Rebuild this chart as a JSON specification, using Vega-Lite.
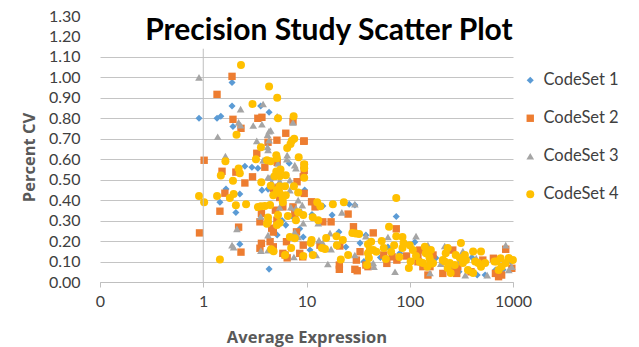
{
"$schema": "https://vega.github.io/schema/vega-lite/v6.json",
"width": 413, "height": 266,
"autosize": {"type": "none"},
"padding": {"left": 100, "top": 16, "right": 126, "bottom": 65},
"background": "white",
"config": {"view": {"stroke": null}},
"datasets": {
"pts": [
{"x":1.9,"y":0.975,"s":"CodeSet 1"},{"x":1.9,"y":0.86,"s":"CodeSet 1"},{"x":3.6,"y":0.86,"s":"CodeSet 1"},{"x":4.34,"y":0.83,"s":"CodeSet 1"},{"x":0.91,"y":0.8,"s":"CodeSet 1"},{"x":1.36,"y":0.8,"s":"CodeSet 1"},{"x":1.48,"y":0.81,"s":"CodeSet 1"},{"x":1.94,"y":0.76,"s":"CodeSet 1"},{"x":2.53,"y":0.566,"s":"CodeSet 1"},{"x":2.96,"y":0.561,"s":"CodeSet 1"},{"x":3.38,"y":0.556,"s":"CodeSet 1"},{"x":1.66,"y":0.454,"s":"CodeSet 1"},{"x":2.26,"y":0.43,"s":"CodeSet 1"},{"x":1.45,"y":0.39,"s":"CodeSet 1"},{"x":2.07,"y":0.34,"s":"CodeSet 1"},{"x":2.26,"y":0.185,"s":"CodeSet 1"},{"x":4.34,"y":0.063,"s":"CodeSet 1"},{"x":3.7,"y":0.449,"s":"CodeSet 1"},{"x":4.24,"y":0.454,"s":"CodeSet 1"},{"x":6.3,"y":0.278,"s":"CodeSet 1"},{"x":5.8,"y":0.3,"s":"CodeSet 1"},{"x":7.3,"y":0.32,"s":"CodeSet 1"},{"x":8.6,"y":0.26,"s":"CodeSet 1"},{"x":5.2,"y":0.23,"s":"CodeSet 1"},{"x":9.6,"y":0.45,"s":"CodeSet 1"},{"x":6.8,"y":0.58,"s":"CodeSet 1"},{"x":9.3,"y":0.22,"s":"CodeSet 1"},{"x":10.8,"y":0.156,"s":"CodeSet 1"},{"x":11.3,"y":0.33,"s":"CodeSet 1"},{"x":14.4,"y":0.371,"s":"CodeSet 1"},{"x":17.7,"y":0.327,"s":"CodeSet 1"},{"x":20.6,"y":0.244,"s":"CodeSet 1"},{"x":24.1,"y":0.171,"s":"CodeSet 1"},{"x":25.9,"y":0.38,"s":"CodeSet 1"},{"x":29.4,"y":0.376,"s":"CodeSet 1"},{"x":33,"y":0.19,"s":"CodeSet 1"},{"x":37.6,"y":0.229,"s":"CodeSet 1"},{"x":36,"y":0.1,"s":"CodeSet 1"},{"x":52,"y":0.12,"s":"CodeSet 1"},{"x":61.5,"y":0.171,"s":"CodeSet 1"},{"x":74,"y":0.32,"s":"CodeSet 1"},{"x":80,"y":0.14,"s":"CodeSet 1"},{"x":112,"y":0.195,"s":"CodeSet 1"},{"x":130,"y":0.1,"s":"CodeSet 1"},{"x":179,"y":0.117,"s":"CodeSet 1"},{"x":250,"y":0.08,"s":"CodeSet 1"},{"x":300,"y":0.05,"s":"CodeSet 1"},{"x":400,"y":0.12,"s":"CodeSet 1"},{"x":450,"y":0.034,"s":"CodeSet 1"},{"x":537,"y":0.034,"s":"CodeSet 1"},{"x":676,"y":0.059,"s":"CodeSet 1"},{"x":800,"y":0.06,"s":"CodeSet 1"},{"x":950,"y":0.1,"s":"CodeSet 1"},
{"x":0.92,"y":0.24,"s":"CodeSet 2"},{"x":1.02,"y":0.595,"s":"CodeSet 2"},{"x":1.9,"y":1.005,"s":"CodeSet 2"},{"x":1.36,"y":0.917,"s":"CodeSet 2"},{"x":1.94,"y":0.795,"s":"CodeSet 2"},{"x":3.38,"y":0.8,"s":"CodeSet 2"},{"x":3.7,"y":0.805,"s":"CodeSet 2"},{"x":2.32,"y":0.751,"s":"CodeSet 2"},{"x":7.4,"y":0.785,"s":"CodeSet 2"},{"x":6.3,"y":0.727,"s":"CodeSet 2"},{"x":9.4,"y":0.688,"s":"CodeSet 2"},{"x":4.24,"y":0.683,"s":"CodeSet 2"},{"x":5.17,"y":0.693,"s":"CodeSet 2"},{"x":9.5,"y":0.689,"s":"CodeSet 2"},{"x":3.3,"y":0.629,"s":"CodeSet 2"},{"x":3.95,"y":0.561,"s":"CodeSet 2"},{"x":9.5,"y":0.571,"s":"CodeSet 2"},{"x":9.5,"y":0.545,"s":"CodeSet 2"},{"x":5.2,"y":0.585,"s":"CodeSet 2"},{"x":1.52,"y":0.541,"s":"CodeSet 2"},{"x":2.07,"y":0.537,"s":"CodeSet 2"},{"x":3.0,"y":0.514,"s":"CodeSet 2"},{"x":2.53,"y":0.484,"s":"CodeSet 2"},{"x":8.1,"y":0.49,"s":"CodeSet 2"},{"x":9.3,"y":0.514,"s":"CodeSet 2"},{"x":5.4,"y":0.463,"s":"CodeSet 2"},{"x":4.77,"y":0.457,"s":"CodeSet 2"},{"x":1.62,"y":0.434,"s":"CodeSet 2"},{"x":5.5,"y":0.413,"s":"CodeSet 2"},{"x":9.5,"y":0.433,"s":"CodeSet 2"},{"x":1.45,"y":0.346,"s":"CodeSet 2"},{"x":3.66,"y":0.335,"s":"CodeSet 2"},{"x":3.54,"y":0.294,"s":"CodeSet 2"},{"x":5.0,"y":0.351,"s":"CodeSet 2"},{"x":5.17,"y":0.302,"s":"CodeSet 2"},{"x":5.9,"y":0.367,"s":"CodeSet 2"},{"x":7.4,"y":0.367,"s":"CodeSet 2"},{"x":7.7,"y":0.335,"s":"CodeSet 2"},{"x":11.2,"y":0.392,"s":"CodeSet 2"},{"x":12.1,"y":0.367,"s":"CodeSet 2"},{"x":14.4,"y":0.294,"s":"CodeSet 2"},{"x":17.3,"y":0.294,"s":"CodeSet 2"},{"x":25.3,"y":0.332,"s":"CodeSet 2"},{"x":28.5,"y":0.27,"s":"CodeSet 2"},{"x":2.2,"y":0.268,"s":"CodeSet 2"},{"x":4.6,"y":0.263,"s":"CodeSet 2"},{"x":4.77,"y":0.244,"s":"CodeSet 2"},{"x":6.4,"y":0.197,"s":"CodeSet 2"},{"x":8.0,"y":0.245,"s":"CodeSet 2"},{"x":3.66,"y":0.189,"s":"CodeSet 2"},{"x":4.44,"y":0.197,"s":"CodeSet 2"},{"x":4.77,"y":0.172,"s":"CodeSet 2"},{"x":3.54,"y":0.165,"s":"CodeSet 2"},{"x":2.32,"y":0.146,"s":"CodeSet 2"},{"x":6.2,"y":0.132,"s":"CodeSet 2"},{"x":6.5,"y":0.118,"s":"CodeSet 2"},{"x":5.9,"y":0.14,"s":"CodeSet 2"},{"x":9.2,"y":0.123,"s":"CodeSet 2"},{"x":9.3,"y":0.18,"s":"CodeSet 2"},{"x":8.6,"y":0.14,"s":"CodeSet 2"},{"x":13.5,"y":0.18,"s":"CodeSet 2"},{"x":21,"y":0.176,"s":"CodeSet 2"},{"x":20.8,"y":0.083,"s":"CodeSet 2"},{"x":20.8,"y":0.062,"s":"CodeSet 2"},{"x":33,"y":0.148,"s":"CodeSet 2"},{"x":30.4,"y":0.107,"s":"CodeSet 2"},{"x":29.4,"y":0.062,"s":"CodeSet 2"},{"x":31,"y":0.055,"s":"CodeSet 2"},{"x":37.6,"y":0.083,"s":"CodeSet 2"},{"x":39.4,"y":0.075,"s":"CodeSet 2"},{"x":44.3,"y":0.24,"s":"CodeSet 2"},{"x":56,"y":0.132,"s":"CodeSet 2"},{"x":60,"y":0.091,"s":"CodeSet 2"},{"x":67.5,"y":0.123,"s":"CodeSet 2"},{"x":75,"y":0.107,"s":"CodeSet 2"},{"x":74,"y":0.26,"s":"CodeSet 2"},{"x":93,"y":0.127,"s":"CodeSet 2"},{"x":120,"y":0.132,"s":"CodeSet 2"},{"x":134,"y":0.075,"s":"CodeSet 2"},{"x":125,"y":0.156,"s":"CodeSet 2"},{"x":120,"y":0.099,"s":"CodeSet 2"},{"x":150,"y":0.034,"s":"CodeSet 2"},{"x":157,"y":0.075,"s":"CodeSet 2"},{"x":168,"y":0.132,"s":"CodeSet 2"},{"x":209,"y":0.042,"s":"CodeSet 2"},{"x":261,"y":0.156,"s":"CodeSet 2"},{"x":273,"y":0.05,"s":"CodeSet 2"},{"x":285,"y":0.042,"s":"CodeSet 2"},{"x":292,"y":0.075,"s":"CodeSet 2"},{"x":392,"y":0.05,"s":"CodeSet 2"},{"x":510,"y":0.107,"s":"CodeSet 2"},{"x":646,"y":0.116,"s":"CodeSet 2"},{"x":676,"y":0.042,"s":"CodeSet 2"},{"x":725,"y":0.026,"s":"CodeSet 2"},{"x":776,"y":0.034,"s":"CodeSet 2"},{"x":850,"y":0.16,"s":"CodeSet 2"},{"x":974,"y":0.067,"s":"CodeSet 2"},
{"x":0.91,"y":1.0,"s":"CodeSet 3"},{"x":2.3,"y":0.845,"s":"CodeSet 3"},{"x":3.8,"y":0.87,"s":"CodeSet 3"},{"x":5.2,"y":0.81,"s":"CodeSet 3"},{"x":2.2,"y":0.78,"s":"CodeSet 3"},{"x":2.3,"y":0.766,"s":"CodeSet 3"},{"x":3.05,"y":0.765,"s":"CodeSet 3"},{"x":3.7,"y":0.771,"s":"CodeSet 3"},{"x":7.4,"y":0.78,"s":"CodeSet 3"},{"x":1.38,"y":0.71,"s":"CodeSet 3"},{"x":4.5,"y":0.741,"s":"CodeSet 3"},{"x":4.34,"y":0.737,"s":"CodeSet 3"},{"x":4.2,"y":0.72,"s":"CodeSet 3"},{"x":3.3,"y":0.69,"s":"CodeSet 3"},{"x":4.34,"y":0.693,"s":"CodeSet 3"},{"x":4.2,"y":0.66,"s":"CodeSet 3"},{"x":4.24,"y":0.645,"s":"CodeSet 3"},{"x":6.5,"y":0.62,"s":"CodeSet 3"},{"x":6.45,"y":0.6,"s":"CodeSet 3"},{"x":1.64,"y":0.615,"s":"CodeSet 3"},{"x":3.8,"y":0.595,"s":"CodeSet 3"},{"x":7.7,"y":0.571,"s":"CodeSet 3"},{"x":7.9,"y":0.556,"s":"CodeSet 3"},{"x":5.3,"y":0.58,"s":"CodeSet 3"},{"x":4.24,"y":0.512,"s":"CodeSet 3"},{"x":4.44,"y":0.51,"s":"CodeSet 3"},{"x":4.77,"y":0.515,"s":"CodeSet 3"},{"x":4.6,"y":0.488,"s":"CodeSet 3"},{"x":5.5,"y":0.493,"s":"CodeSet 3"},{"x":6.9,"y":0.498,"s":"CodeSet 3"},{"x":6.9,"y":0.449,"s":"CodeSet 3"},{"x":8.3,"y":0.4,"s":"CodeSet 3"},{"x":9.1,"y":0.376,"s":"CodeSet 3"},{"x":8.9,"y":0.344,"s":"CodeSet 3"},{"x":7.9,"y":0.361,"s":"CodeSet 3"},{"x":5.5,"y":0.366,"s":"CodeSet 3"},{"x":7.06,"y":0.366,"s":"CodeSet 3"},{"x":3.6,"y":0.32,"s":"CodeSet 3"},{"x":9.3,"y":0.288,"s":"CodeSet 3"},{"x":13,"y":0.288,"s":"CodeSet 3"},{"x":16.9,"y":0.239,"s":"CodeSet 3"},{"x":7.7,"y":0.244,"s":"CodeSet 3"},{"x":8.3,"y":0.22,"s":"CodeSet 3"},{"x":4.24,"y":0.229,"s":"CodeSet 3"},{"x":2.12,"y":0.26,"s":"CodeSet 3"},{"x":4.24,"y":0.156,"s":"CodeSet 3"},{"x":1.9,"y":0.18,"s":"CodeSet 3"},{"x":1.97,"y":0.17,"s":"CodeSet 3"},{"x":3.62,"y":0.153,"s":"CodeSet 3"},{"x":7.55,"y":0.122,"s":"CodeSet 3"},{"x":12.4,"y":0.132,"s":"CodeSet 3"},{"x":13.2,"y":0.205,"s":"CodeSet 3"},{"x":16.1,"y":0.088,"s":"CodeSet 3"},{"x":17.3,"y":0.161,"s":"CodeSet 3"},{"x":14.4,"y":0.19,"s":"CodeSet 3"},{"x":22,"y":0.34,"s":"CodeSet 3"},{"x":29.4,"y":0.38,"s":"CodeSet 3"},{"x":29.4,"y":0.132,"s":"CodeSet 3"},{"x":37.6,"y":0.224,"s":"CodeSet 3"},{"x":44.3,"y":0.093,"s":"CodeSet 3"},{"x":45,"y":0.075,"s":"CodeSet 3"},{"x":61.5,"y":0.22,"s":"CodeSet 3"},{"x":72,"y":0.05,"s":"CodeSet 3"},{"x":89,"y":0.19,"s":"CodeSet 3"},{"x":115,"y":0.224,"s":"CodeSet 3"},{"x":150,"y":0.18,"s":"CodeSet 3"},{"x":157,"y":0.044,"s":"CodeSet 3"},{"x":200,"y":0.09,"s":"CodeSet 3"},{"x":218,"y":0.176,"s":"CodeSet 3"},{"x":300,"y":0.1,"s":"CodeSet 3"},{"x":327,"y":0.151,"s":"CodeSet 3"},{"x":345,"y":0.034,"s":"CodeSet 3"},{"x":440,"y":0.117,"s":"CodeSet 3"},{"x":562,"y":0.034,"s":"CodeSet 3"},{"x":850,"y":0.18,"s":"CodeSet 3"},{"x":910,"y":0.059,"s":"CodeSet 3"},{"x":974,"y":0.075,"s":"CodeSet 3"},
{"x":2.32,"y":1.06,"s":"CodeSet 4"},{"x":4.34,"y":0.956,"s":"CodeSet 4"},{"x":5.2,"y":0.9,"s":"CodeSet 4"},{"x":3.0,"y":0.87,"s":"CodeSet 4"},{"x":7.5,"y":0.81,"s":"CodeSet 4"},{"x":5.3,"y":0.8,"s":"CodeSet 4"},{"x":2.1,"y":0.72,"s":"CodeSet 4"},{"x":7.6,"y":0.7,"s":"CodeSet 4"},{"x":7.2,"y":0.69,"s":"CodeSet 4"},{"x":7.0,"y":0.675,"s":"CodeSet 4"},{"x":6.5,"y":0.655,"s":"CodeSet 4"},{"x":3.62,"y":0.659,"s":"CodeSet 4"},{"x":5.1,"y":0.62,"s":"CodeSet 4"},{"x":8.4,"y":0.61,"s":"CodeSet 4"},{"x":1.64,"y":0.59,"s":"CodeSet 4"},{"x":3.24,"y":0.6,"s":"CodeSet 4"},{"x":4.14,"y":0.595,"s":"CodeSet 4"},{"x":4.5,"y":0.59,"s":"CodeSet 4"},{"x":5.17,"y":0.605,"s":"CodeSet 4"},{"x":9.5,"y":0.575,"s":"CodeSet 4"},{"x":9.5,"y":0.556,"s":"CodeSet 4"},{"x":2.2,"y":0.555,"s":"CodeSet 4"},{"x":5.1,"y":0.54,"s":"CodeSet 4"},{"x":5.6,"y":0.55,"s":"CodeSet 4"},{"x":2.26,"y":0.532,"s":"CodeSet 4"},{"x":1.48,"y":0.52,"s":"CodeSet 4"},{"x":4.9,"y":0.517,"s":"CodeSet 4"},{"x":5.5,"y":0.517,"s":"CodeSet 4"},{"x":6.3,"y":0.522,"s":"CodeSet 4"},{"x":9.5,"y":0.51,"s":"CodeSet 4"},{"x":1.94,"y":0.495,"s":"CodeSet 4"},{"x":3.65,"y":0.487,"s":"CodeSet 4"},{"x":4.5,"y":0.47,"s":"CodeSet 4"},{"x":5.5,"y":0.468,"s":"CodeSet 4"},{"x":6.2,"y":0.468,"s":"CodeSet 4"},{"x":7.55,"y":0.468,"s":"CodeSet 4"},{"x":5.17,"y":0.45,"s":"CodeSet 4"},{"x":1.97,"y":0.43,"s":"CodeSet 4"},{"x":4.77,"y":0.424,"s":"CodeSet 4"},{"x":5.5,"y":0.434,"s":"CodeSet 4"},{"x":6.3,"y":0.424,"s":"CodeSet 4"},{"x":5.9,"y":0.41,"s":"CodeSet 4"},{"x":8.3,"y":0.437,"s":"CodeSet 4"},{"x":0.91,"y":0.42,"s":"CodeSet 4"},{"x":1.36,"y":0.42,"s":"CodeSet 4"},{"x":1.81,"y":0.41,"s":"CodeSet 4"},{"x":1.02,"y":0.39,"s":"CodeSet 4"},{"x":5.9,"y":0.39,"s":"CodeSet 4"},{"x":2.07,"y":0.375,"s":"CodeSet 4"},{"x":2.6,"y":0.38,"s":"CodeSet 4"},{"x":3.38,"y":0.366,"s":"CodeSet 4"},{"x":3.62,"y":0.37,"s":"CodeSet 4"},{"x":3.95,"y":0.371,"s":"CodeSet 4"},{"x":4.44,"y":0.376,"s":"CodeSet 4"},{"x":4.24,"y":0.315,"s":"CodeSet 4"},{"x":4.24,"y":0.295,"s":"CodeSet 4"},{"x":4.14,"y":0.285,"s":"CodeSet 4"},{"x":5.3,"y":0.327,"s":"CodeSet 4"},{"x":5.17,"y":0.278,"s":"CodeSet 4"},{"x":5.5,"y":0.29,"s":"CodeSet 4"},{"x":6.6,"y":0.322,"s":"CodeSet 4"},{"x":7.9,"y":0.302,"s":"CodeSet 4"},{"x":8.3,"y":0.341,"s":"CodeSet 4"},{"x":9.3,"y":0.327,"s":"CodeSet 4"},{"x":11.5,"y":0.317,"s":"CodeSet 4"},{"x":13,"y":0.302,"s":"CodeSet 4"},{"x":12.7,"y":0.39,"s":"CodeSet 4"},{"x":13.6,"y":0.37,"s":"CodeSet 4"},{"x":18,"y":0.38,"s":"CodeSet 4"},{"x":23,"y":0.39,"s":"CodeSet 4"},{"x":6.9,"y":0.22,"s":"CodeSet 4"},{"x":7.7,"y":0.214,"s":"CodeSet 4"},{"x":11.2,"y":0.205,"s":"CodeSet 4"},{"x":15.5,"y":0.215,"s":"CodeSet 4"},{"x":19.5,"y":0.224,"s":"CodeSet 4"},{"x":22.5,"y":0.205,"s":"CodeSet 4"},{"x":27.8,"y":0.24,"s":"CodeSet 4"},{"x":30,"y":0.237,"s":"CodeSet 4"},{"x":32.3,"y":0.234,"s":"CodeSet 4"},{"x":1.45,"y":0.11,"s":"CodeSet 4"},{"x":4.55,"y":0.16,"s":"CodeSet 4"},{"x":4.8,"y":0.15,"s":"CodeSet 4"},{"x":6.2,"y":0.132,"s":"CodeSet 4"},{"x":7.1,"y":0.166,"s":"CodeSet 4"},{"x":9.3,"y":0.127,"s":"CodeSet 4"},{"x":11.0,"y":0.19,"s":"CodeSet 4"},{"x":11.5,"y":0.132,"s":"CodeSet 4"},{"x":14.1,"y":0.166,"s":"CodeSet 4"},{"x":15.1,"y":0.161,"s":"CodeSet 4"},{"x":19.7,"y":0.18,"s":"CodeSet 4"},{"x":21.5,"y":0.11,"s":"CodeSet 4"},{"x":25.3,"y":0.132,"s":"CodeSet 4"},{"x":39.4,"y":0.185,"s":"CodeSet 4"},{"x":42.3,"y":0.197,"s":"CodeSet 4"},{"x":41,"y":0.156,"s":"CodeSet 4"},{"x":44.3,"y":0.156,"s":"CodeSet 4"},{"x":39.4,"y":0.141,"s":"CodeSet 4"},{"x":40.2,"y":0.117,"s":"CodeSet 4"},{"x":38.5,"y":0.083,"s":"CodeSet 4"},{"x":47.5,"y":0.148,"s":"CodeSet 4"},{"x":53.5,"y":0.2,"s":"CodeSet 4"},{"x":56,"y":0.166,"s":"CodeSet 4"},{"x":58.7,"y":0.112,"s":"CodeSet 4"},{"x":63,"y":0.27,"s":"CodeSet 4"},{"x":66,"y":0.148,"s":"CodeSet 4"},{"x":70.6,"y":0.18,"s":"CodeSet 4"},{"x":74,"y":0.224,"s":"CodeSet 4"},{"x":74,"y":0.41,"s":"CodeSet 4"},{"x":79.3,"y":0.122,"s":"CodeSet 4"},{"x":85,"y":0.22,"s":"CodeSet 4"},{"x":85,"y":0.166,"s":"CodeSet 4"},{"x":87,"y":0.19,"s":"CodeSet 4"},{"x":98,"y":0.068,"s":"CodeSet 4"},{"x":100,"y":0.18,"s":"CodeSet 4"},{"x":102,"y":0.1,"s":"CodeSet 4"},{"x":107,"y":0.156,"s":"CodeSet 4"},{"x":115,"y":0.127,"s":"CodeSet 4"},{"x":125,"y":0.098,"s":"CodeSet 4"},{"x":134,"y":0.093,"s":"CodeSet 4"},{"x":140,"y":0.172,"s":"CodeSet 4"},{"x":143,"y":0.141,"s":"CodeSet 4"},{"x":148,"y":0.075,"s":"CodeSet 4"},{"x":155,"y":0.122,"s":"CodeSet 4"},{"x":157,"y":0.107,"s":"CodeSet 4"},{"x":160,"y":0.156,"s":"CodeSet 4"},{"x":165,"y":0.09,"s":"CodeSet 4"},{"x":168,"y":0.093,"s":"CodeSet 4"},{"x":209,"y":0.107,"s":"CodeSet 4"},{"x":218,"y":0.1,"s":"CodeSet 4"},{"x":223,"y":0.141,"s":"CodeSet 4"},{"x":233,"y":0.166,"s":"CodeSet 4"},{"x":233,"y":0.068,"s":"CodeSet 4"},{"x":244,"y":0.093,"s":"CodeSet 4"},{"x":249,"y":0.044,"s":"CodeSet 4"},{"x":273,"y":0.083,"s":"CodeSet 4"},{"x":279,"y":0.132,"s":"CodeSet 4"},{"x":306,"y":0.117,"s":"CodeSet 4"},{"x":313,"y":0.19,"s":"CodeSet 4"},{"x":327,"y":0.093,"s":"CodeSet 4"},{"x":342,"y":0.132,"s":"CodeSet 4"},{"x":350,"y":0.107,"s":"CodeSet 4"},{"x":366,"y":0.059,"s":"CodeSet 4"},{"x":411,"y":0.149,"s":"CodeSet 4"},{"x":411,"y":0.044,"s":"CodeSet 4"},{"x":430,"y":0.1,"s":"CodeSet 4"},{"x":460,"y":0.093,"s":"CodeSet 4"},{"x":490,"y":0.149,"s":"CodeSet 4"},{"x":490,"y":0.075,"s":"CodeSet 4"},{"x":537,"y":0.093,"s":"CodeSet 4"},{"x":661,"y":0.1,"s":"CodeSet 4"},{"x":692,"y":0.1,"s":"CodeSet 4"},{"x":725,"y":0.059,"s":"CodeSet 4"},{"x":758,"y":0.116,"s":"CodeSet 4"},{"x":776,"y":0.075,"s":"CodeSet 4"},{"x":850,"y":0.093,"s":"CodeSet 4"},{"x":910,"y":0.117,"s":"CodeSet 4"},{"x":997,"y":0.107,"s":"CodeSet 4"}
]
},
"layer": [
{
"data": {"name": "pts"},
"mark": {"type": "point", "filled": true, "opacity": 1, "strokeWidth": 0},
"encoding": {
"x": {"field": "x", "type": "quantitative", "scale": {"type": "log", "domain": [0.1, 1000]},
"axis": {"title": "Average Expression", "titleFont": "Open Sans", "titleFontSize": 16.5, "titleFontWeight": "bold", "titleColor": "#595959", "titlePadding": 20,
"values": [0.1, 1, 10, 100, 1000], "tickCount": 10, "labelExpr": "datum.value < 0.5 ? '0' : format(datum.value, 'd')",
"labelFont": "Lato", "labelFontSize": 16, "labelColor": "#404040", "labelPadding": 6, "labelFlush": false,
"grid": false, "domainColor": "#BFBFBF", "tickColor": "#BFBFBF", "tickSize": 5}},
"y": {"field": "y", "type": "quantitative", "scale": {"domain": [0, 1.3], "nice": false},
"axis": {"title": "Percent CV", "titleFont": "Open Sans", "titleFontSize": 16.5, "titleFontWeight": "bold", "titleColor": "#595959", "titlePadding": 11, "titleY": 141,
"values": [0, 0.1, 0.2, 0.3, 0.4, 0.5, 0.6, 0.7, 0.8, 0.9, 1.0, 1.1, 1.2, 1.3], "tickCount": 20, "format": ".2f", "labelOverlap": false,
"labelFont": "Lato", "labelFontSize": 16, "labelColor": "#404040", "labelPadding": 20,
"ticks": false, "domain": false, "grid": true, "gridOpacity": 1,
"gridColor": {"condition": {"test": "datum.value > 1.15", "value": "#FFFFFF"}, "value": "#C4C4C4"}}},
"color": {"field": "s", "type": "nominal",
"scale": {"domain": ["CodeSet 1", "CodeSet 2", "CodeSet 3", "CodeSet 4"], "range": ["#5B9BD5", "#ED7D31", "#A5A5A5", "#FFC000"]},
"legend": {"orient": "none", "legendX": 422, "legendY": 56, "title": null, "padding": 0, "labelFont": "Lato", "labelFontSize": 16.5, "labelColor": "#404040", "labelOffset": 5, "rowPadding": 21, "symbolSize": 45, "symbolStrokeWidth": 0}},
"shape": {"field": "s", "type": "nominal",
"scale": {"domain": ["CodeSet 1", "CodeSet 2", "CodeSet 3", "CodeSet 4"], "range": ["diamond", "square", "triangle-up", "circle"]}},
"size": {"field": "s", "type": "nominal", "scale": {"domain": ["CodeSet 1", "CodeSet 2", "CodeSet 3", "CodeSet 4"], "range": [50, 64, 75, 90]}, "legend": null}
}
},
{
"data": {"values": [{}]},
"mark": {"type": "rule", "color": "#BFBFBF", "strokeWidth": 1},
"encoding": {
"x": {"datum": 1, "type": "quantitative"},
"y": {"datum": 0, "type": "quantitative"},
"y2": {"datum": 1.14}
}
},
{
"data": {"values": [{}]},
"mark": {"type": "text", "text": "Precision Study Scatter Plot", "font": "Lato", "fontSize": 30, "fontWeight": "bold", "color": "#000000", "align": "center", "baseline": "alphabetic"},
"encoding": {
"x": {"datum": 16.5, "type": "quantitative"},
"y": {"datum": 1.185, "type": "quantitative"}
}
}
]
}
